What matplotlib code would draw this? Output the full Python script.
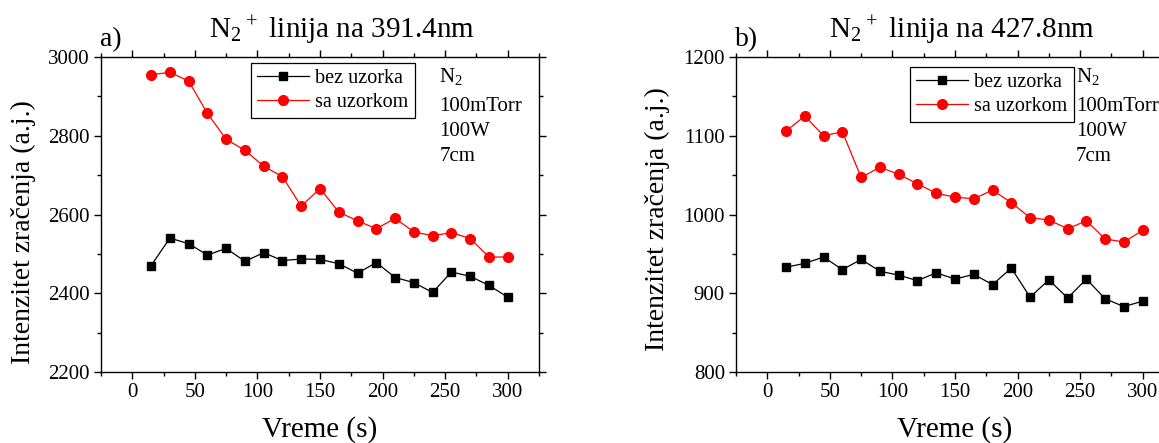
import numpy as np
import matplotlib
matplotlib.use('Agg')
import matplotlib.pyplot as plt
import matplotlib.ticker as ticker

plt.rcParams['font.family'] = ['Liberation Serif', 'DejaVu Serif']
plt.rcParams['mathtext.fontset'] = 'custom'
plt.rcParams['mathtext.rm'] = 'Liberation Serif'

vreme = [15, 30, 45, 60, 75, 90, 105, 120, 135, 150,
         165, 180, 195, 210, 225, 240, 255, 270, 285, 300]

# a) 391.4 nm
bez_391 = [2470, 2540, 2526, 2497, 2514, 2481, 2503, 2483, 2487, 2486,
           2475, 2451, 2478, 2440, 2427, 2402, 2454, 2443, 2420, 2390]
sa_391 = [2955, 2961, 2939, 2857, 2791, 2763, 2723, 2696, 2621, 2666,
          2606, 2584, 2564, 2590, 2556, 2546, 2554, 2539, 2492, 2492]

# b) 427.8 nm
bez_427 = [933, 938, 946, 930, 943, 928, 923, 916, 926, 918,
           924, 911, 932, 895, 917, 894, 918, 893, 883, 890]
sa_427 = [1106, 1125, 1100, 1105, 1047, 1060, 1051, 1039, 1027, 1022,
          1020, 1031, 1015, 996, 993, 982, 992, 969, 965, 980]

uslovi = ['N$_2$', '100mTorr', '100W', '7cm']

W, H = 1159, 443
fig = plt.figure(figsize=(W / 100, H / 100), dpi=100)


def panel(left, bez, sa, ylim, ymaj, ymin, oznaka, naslov, xnaslov,
          leg_x, leg_y, txt_x, ylab_x, ylab_y):
    ax = fig.add_axes([left / W, 1 - 372 / H, 438 / W, 315 / H])
    ax.plot(vreme, bez, color='black', marker='s', markersize=6, lw=0.9, label='bez uzorka')
    ax.plot(vreme, sa, color='red', marker='o', markersize=7, lw=0.9, label='sa uzorkom')
    ax.set_xlim(-25, 325)
    ax.set_ylim(*ylim)
    ax.xaxis.set_major_locator(ticker.MultipleLocator(50))
    ax.xaxis.set_minor_locator(ticker.MultipleLocator(25))
    ax.yaxis.set_major_locator(ticker.MultipleLocator(ymaj))
    ax.yaxis.set_minor_locator(ticker.MultipleLocator(ymin))
    ax.tick_params(which='both', direction='out', top=True, right=True,
                   labelsize=15, width=1.0)
    ax.tick_params(which='major', length=5, pad=3)
    ax.tick_params(which='minor', length=3)
    for s in ax.spines.values():
        s.set_linewidth(1.0)
    ax.set_xlabel('Vreme (s)', fontsize=21, labelpad=10)
    ax.set_ylabel('Intenzitet zračenja (a.j.)', fontsize=20)
    ax.yaxis.set_label_coords(ylab_x, ylab_y)
    leg = ax.legend(loc='upper left', bbox_to_anchor=(leg_x, leg_y), fontsize=14.5,
                    frameon=True, fancybox=False, edgecolor='black', framealpha=1,
                    borderaxespad=0, handlelength=2.6, handletextpad=0.3,
                    borderpad=0.3, labelspacing=0.25)
    leg.get_frame().set_linewidth(0.9)
    for txt, base in zip(uslovi, [82, 111, 136, 161]):
        ax.text(txt_x, (372 - base) / 315, txt, transform=ax.transAxes,
                fontsize=15, va='baseline', ha='left')
    fig.text(xnaslov / W, 1 - 38 / H, r'$\mathregular{N_2{}^+}$ linija na ' + naslov,
             fontsize=21, ha='center', va='baseline')
    fig.text(left / W - 0.001, 1 - 46 / H, oznaka, fontsize=20, ha='left', va='baseline')
    return ax


panel(101, bez_391, sa_391, (2200, 3000), 200, 100, 'a)', '391.4nm', 342,
      0.342, 0.981, 0.772, -0.148, 0.445)
panel(736, bez_427, sa_427, (800, 1200), 100, 50, 'b)', '427.8nm', 962,
      0.397, 0.968, 0.776, -0.151, 0.485)

plt.savefig('out.png', dpi=100)
